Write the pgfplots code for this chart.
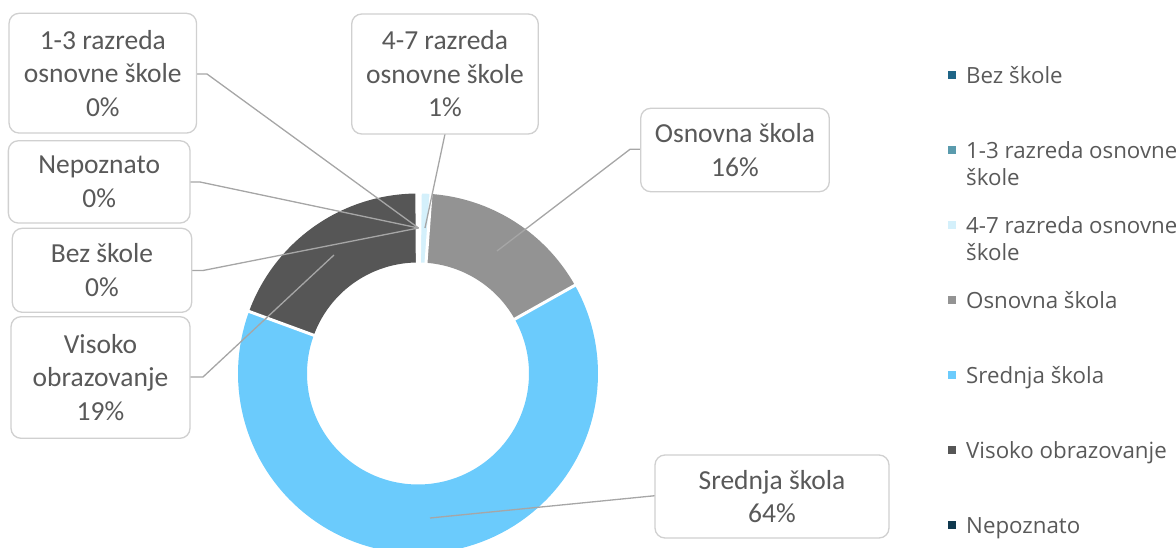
\documentclass[border=0pt]{standalone}
\usepackage{fontspec}
\usepackage{pgfplots}
\usepackage{pgfplotstable}
\pgfplotsset{compat=1.18}
\newfontfamily\labfont{Carlito}
\newfontfamily\legfont{Open Sans}
\definecolor{cBez}{HTML}{1F6587}
\definecolor{cOne}{HTML}{5A9BAD}
\definecolor{cFour}{HTML}{D4F0FB}
\definecolor{cOsn}{HTML}{939393}
\definecolor{cSred}{HTML}{6BCBFC}
\definecolor{cVis}{HTML}{565656}
\definecolor{cNep}{HTML}{10394F}
\definecolor{txt}{HTML}{595959}
\definecolor{boxc}{HTML}{D0D0D0}
\definecolor{lead}{HTML}{A6A6A6}

% shares in percent (clockwise from 12 o'clock)
\pgfplotstableread{
name value
Bez  0.10
One  0.10
Four 0.95
Osn  15.70
Sred 63.75
Vis  19.30
Nep  0.10
}\shares

\pgfplotstablegetelem{0}{value}\of\shares \pgfmathsetmacro\vA{\pgfplotsretval}
\pgfplotstablegetelem{1}{value}\of\shares \pgfmathsetmacro\vB{\pgfplotsretval}
\pgfplotstablegetelem{2}{value}\of\shares \pgfmathsetmacro\vC{\pgfplotsretval}
\pgfplotstablegetelem{3}{value}\of\shares \pgfmathsetmacro\vD{\pgfplotsretval}
\pgfplotstablegetelem{4}{value}\of\shares \pgfmathsetmacro\vE{\pgfplotsretval}
\pgfplotstablegetelem{5}{value}\of\shares \pgfmathsetmacro\vF{\pgfplotsretval}
\pgfplotstablegetelem{6}{value}\of\shares \pgfmathsetmacro\vG{\pgfplotsretval}
\pgfmathsetmacro\tA{90}
\pgfmathsetmacro\tB{\tA-3.6*\vA}
\pgfmathsetmacro\tC{\tB-3.6*\vB}
\pgfmathsetmacro\tD{\tC-3.6*\vC}
\pgfmathsetmacro\tE{\tD-3.6*\vD}
\pgfmathsetmacro\tF{\tE-3.6*\vE}
\pgfmathsetmacro\tG{\tF-3.6*\vF}
\pgfmathsetmacro\tH{\tG-3.6*\vG}
\def\cx{418}\def\cy{373.5}\def\Ro{180}\def\Ri{111}
\newcommand\slice[3]{%
  \addplot[fill=#1, draw=none, forget plot, domain=0:3, samples=301, variable=\t]
  ({\cx+(\t<1 ? \Ro : (\t<2 ? \Ro+(\Ri-\Ro)*(\t-1) : \Ri))*cos(\t<1 ? #2+(#3-#2)*\t : (\t<2 ? #3 : #3+(#2-#3)*(\t-2)))},
   {\cy-(\t<1 ? \Ro : (\t<2 ? \Ro+(\Ri-\Ro)*(\t-1) : \Ri))*sin(\t<1 ? #2+(#3-#2)*\t : (\t<2 ? #3 : #3+(#2-#3)*(\t-2)))});
}
\newcommand\sep[1]{%
  \addplot[white, line width=3pt, forget plot, domain=105:186, samples=2]
  ({\cx+x*cos(#1)},{\cy-x*sin(#1)});
}

\begin{document}
\begin{tikzpicture}[
  lbl/.style={draw=boxc, line width=1.3pt, fill=white, rounded corners=10pt,
    align=center, text=txt, inner sep=0pt,
    font=\labfont\fontsize{27.5}{33.5}\selectfont},
  ld/.style={draw=lead, line width=1.3pt}]
\begin{axis}[
  x=1pt, y=1pt, y dir=reverse, scale only axis,
  xmin=0, xmax=1176, ymin=0, ymax=548,
  hide axis, clip=true,
  legend image code/.code={\fill[#1, draw=none] (0pt,4pt) rectangle (8.5pt,12.5pt); \path (18.5pt,0pt);},
  legend style={at={(axis cs:947.5,65.3)}, anchor=north west, draw=none, fill=none,
    inner sep=0pt, outer sep=0pt, row sep=0pt,
    font=\legfont\fontsize{22.3}{26.7}\selectfont, text=txt,
    cells={anchor=base west},
    nodes={inner sep=0pt, text height=18pt, text depth=57pt}},
]
\slice{cBez}{\tA}{\tB}
\slice{cOne}{\tB}{\tC}
\slice{cFour}{\tC}{\tD}
\slice{cOsn}{\tD}{\tE}
\slice{cSred}{\tE}{\tF}
\slice{cVis}{\tF}{\tG}
\slice{cNep}{\tG}{\tH}
\sep{\tA}\sep{\tB}\sep{\tC}\sep{\tD}\sep{\tE}\sep{\tF}\sep{\tG}

\addlegendimage{fill=cBez}\addlegendentry{Bez škole}
\addlegendimage{fill=cOne}\addlegendentry{\vtop{\hbox{1-3 razreda osnovne}\hbox{škole}}}
\addlegendimage{fill=cFour}\addlegendentry{\vtop{\hbox{4-7 razreda osnovne}\hbox{škole}}}
\addlegendimage{fill=cOsn}\addlegendentry{Osnovna škola}
\addlegendimage{fill=cSred}\addlegendentry{Srednja škola}
\addlegendimage{fill=cVis}\addlegendentry{Visoko obrazovanje}
\addlegendimage{fill=cNep}\addlegendentry{Nepoznato}

% leader lines
\draw[ld] (196.5,74) -- (207,74) -- (418.5,228);
\draw[ld] (190,182) -- (200,182) -- (418.5,228);
\draw[ld] (191.7,270.5) -- (203,270.5) -- (418.5,228);
\draw[ld] (190,377) -- (203,377) -- (334,255);
\draw[ld] (445,134) -- (425,228);
\draw[ld] (640.7,149.3) -- (630,149.3) -- (497,251);
\draw[ld] (655,495.7) -- (430,518);

% data labels
\node[lbl, minimum width=187.5pt, minimum height=119.7pt] at (102.8,73.2) {1-3 razreda\\osnovne škole\\0\%};
\node[lbl, minimum width=186.6pt, minimum height=120pt] at (445,74) {4-7 razreda\\osnovne škole\\1\%};
\node[lbl, minimum width=181.7pt, minimum height=82.3pt] at (99.2,181.9) {Nepoznato\\0\%};
\node[lbl, minimum width=179.4pt, minimum height=84pt] at (102,270.3) {Bez škole\\0\%};
\node[lbl, minimum width=179pt, minimum height=121.6pt] at (100.5,377.5) {Visoko\\obrazovanje\\19\%};
\node[lbl, minimum width=188.6pt, minimum height=83.4pt] at (735,150) {Osnovna škola\\16\%};
\node[lbl, minimum width=234pt, minimum height=83pt] at (772,496.5) {Srednja škola\\64\%};
\end{axis}
\pgfresetboundingbox
\path[use as bounding box] (current axis.south west) rectangle (current axis.north east);
\end{tikzpicture}
\end{document}
